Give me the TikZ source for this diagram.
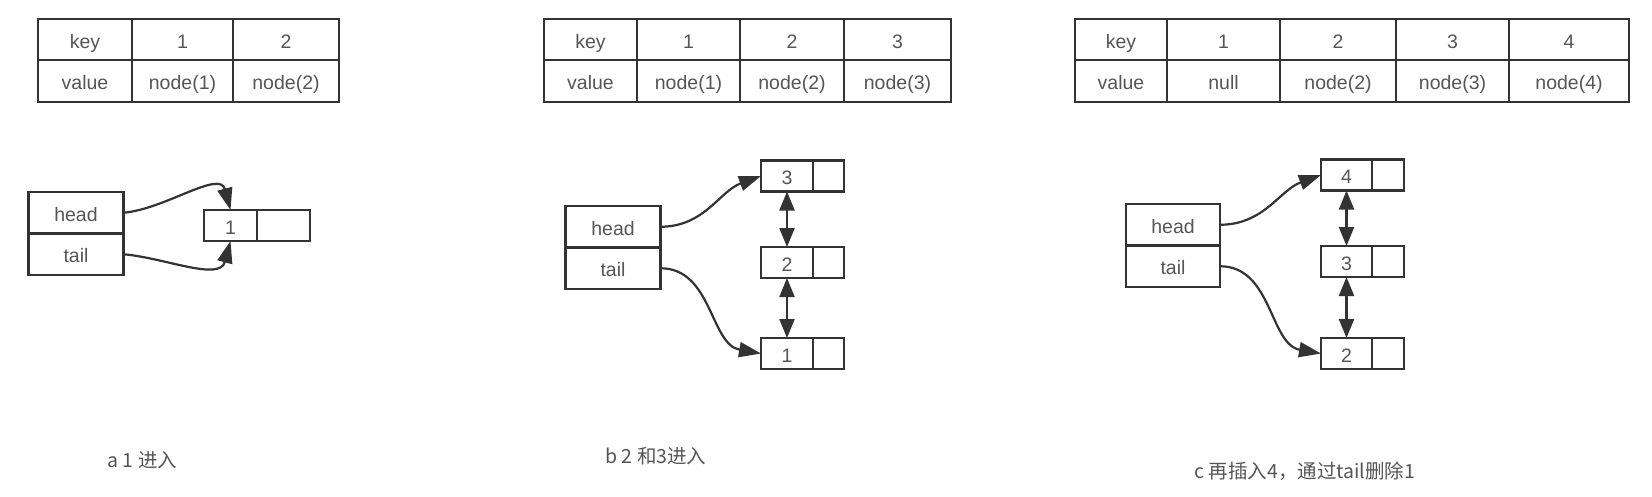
\documentclass[tikz,border=0pt]{standalone}
\usepackage{fontspec}
\setmainfont{Liberation Sans}
\newfontfamily\cjk{Noto Sans CJK SC}
\usetikzlibrary{positioning,arrows.meta}
\definecolor{ink}{HTML}{333333}
\definecolor{txt}{HTML}{555555}
\begin{document}
\begin{tikzpicture}[x=1pt,y=1pt,
  cell/.style={draw=ink,line width=2.4pt,inner sep=0pt,outer sep=0pt,minimum height=41.5pt,text=txt,text height=17pt,text depth=0pt,font=\fontsize{19.5}{22}\selectfont},
  box/.style={cell,minimum height=31pt},
  ptr/.style={draw=ink,line width=2.2pt,-{Triangle[length=22pt,width=15pt]}},
  dbl/.style={draw=ink,line width=2.2pt,{Triangle[length=19pt,width=15pt]}-{Triangle[length=19pt,width=15pt]}},
  captext/.style={anchor=west,text=txt,font=\cjk\fontsize{19.5}{22}\selectfont}]
\useasboundingbox (0,0) rectangle (1652,-496);
% tables
\foreach \i/\x/\w/\k/\v in {0/38/94/key/value,1/132/101/1/node(1),2/233/106/2/node(2)}{
  \node[cell,minimum width=\w pt] (ak\i) at (\x+\w/2,-39.5) {\k};
  \node[cell,minimum width=\w pt] (av\i) at (\x+\w/2,-81) {\v};
}
\foreach \i/\x/\w/\k/\v in {0/544/93/key/value,1/637/103/1/node(1),2/740/104/2/node(2),3/844/107/3/node(3)}{
  \node[cell,minimum width=\w pt] (bk\i) at (\x+\w/2,-39.5) {\k};
  \node[cell,minimum width=\w pt] (bv\i) at (\x+\w/2,-81) {\v};
}
\foreach \i/\x/\w/\k/\v in {0/1075/92/key/value,1/1167/113/1/null,2/1280/116/2/node(2),3/1396/113/3/node(3),4/1509/120/4/node(4)}{
  \node[cell,minimum width=\w pt] (ck\i) at (\x+\w/2,-39.5) {\k};
  \node[cell,minimum width=\w pt] (cv\i) at (\x+\w/2,-81) {\v};
}
% a
\node[cell,minimum width=95pt] (ahead) at (76,-212.75) {head};
\node[cell,minimum width=95pt,below=0pt of ahead] (atail) {tail};
\node[box,minimum width=53pt] (a1) at (230.5,-225.5) {1};
\node[box,minimum width=53pt,right=0pt of a1] (ap1) {};
\draw[ptr] (ahead.east) to[out=5,in=105] (a1.north);
\draw[ptr] (atail.east) to[out=-5,in=-105] (a1.south);
% b
\node[cell,minimum width=95pt] (bhead) at (613,-226.75) {head};
\node[cell,minimum width=95pt,below=0pt of bhead] (btail) {tail};
\foreach \n/\y in {3/176,2/262.5,1/353.5}{
  \node[box,minimum width=52pt] (b\n) at (787,-\y) {\n};
  \node[box,minimum width=31pt,right=0pt of b\n] (bp\n) {};
}
\draw[ptr] (bhead.east) to[out=0,in=200] (b3.west);
\draw[ptr] (btail.east) to[out=0,in=170] (b1.west);
\draw[dbl] (b3) -- (b2);
\draw[dbl] (b2) -- (b1);
% c
\node[cell,minimum width=94pt] (chead) at (1173,-224.75) {head};
\node[cell,minimum width=94pt,below=0pt of chead] (ctail) {tail};
\foreach \n/\y in {4/175,3/261.5,2/353.5}{
  \node[box,minimum width=51pt] (c\n) at (1346.5,-\y) {\n};
  \node[box,minimum width=32pt,right=0pt of c\n] (cp\n) {};
}
\draw[ptr] (chead.east) to[out=0,in=200] (c4.west);
\draw[ptr] (ctail.east) to[out=0,in=170] (c2.west);
\draw[dbl] (c4) -- (c3);
\draw[dbl] (c3) -- (c2);
% captions
\node[captext] (capa) at (104,-460) {a 1 进入};
\node[captext] (capb) at (602,-456) {b 2 和3进入};
\node[captext] (capc) at (1191,-471) {c 再插入4，通过tail删除1};
\end{tikzpicture}
\end{document}
